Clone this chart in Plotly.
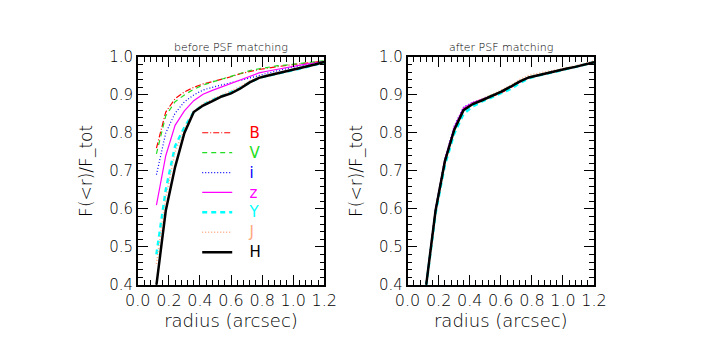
import plotly.graph_objects as go

radius = [0.12, 0.18, 0.24, 0.30, 0.36, 0.42, 0.48, 0.54, 0.60, 0.66,
          0.72, 0.78, 0.84, 0.90, 0.96, 1.02, 1.08, 1.14, 1.20]

bands = ["B", "V", "i", "z", "Y", "J", "H"]

# before PSF matching
before_B = [0.760, 0.855, 0.890, 0.908, 0.920, 0.929, 0.935, 0.941, 0.948, 0.956,
            0.962, 0.967, 0.971, 0.975, 0.978, 0.981, 0.984, 0.986, 0.989]
before_V = [0.745, 0.845, 0.882, 0.900, 0.915, 0.926, 0.934, 0.942, 0.949, 0.958,
            0.964, 0.969, 0.973, 0.977, 0.979, 0.982, 0.985, 0.987, 0.990]
before_i = [0.690, 0.800, 0.852, 0.882, 0.900, 0.913, 0.920, 0.926, 0.932, 0.938,
            0.944, 0.951, 0.958, 0.964, 0.969, 0.975, 0.979, 0.983, 0.988]
before_z = [0.610, 0.740, 0.820, 0.858, 0.885, 0.902, 0.912, 0.921, 0.929, 0.939,
            0.948, 0.958, 0.963, 0.968, 0.973, 0.977, 0.981, 0.984, 0.988]
before_Y = [0.480, 0.650, 0.765, 0.815, 0.855, 0.874, 0.886, 0.897, 0.906, 0.918,
            0.933, 0.945, 0.951, 0.956, 0.962, 0.967, 0.973, 0.980, 0.986]
before_J = [0.455, 0.630, 0.750, 0.810, 0.857, 0.877, 0.889, 0.900, 0.910, 0.922,
            0.937, 0.948, 0.954, 0.959, 0.964, 0.969, 0.975, 0.981, 0.987]
before_H = [0.400, 0.595, 0.710, 0.800, 0.855, 0.872, 0.884, 0.896, 0.904, 0.917,
            0.933, 0.945, 0.951, 0.957, 0.962, 0.967, 0.973, 0.980, 0.987]

# after PSF matching
after_B = [0.405, 0.598, 0.727, 0.812, 0.862, 0.878, 0.887, 0.895, 0.905, 0.918,
           0.933, 0.945, 0.952, 0.958, 0.964, 0.969, 0.975, 0.980, 0.986]
after_V = [0.403, 0.600, 0.728, 0.812, 0.863, 0.879, 0.889, 0.898, 0.909, 0.922,
           0.936, 0.947, 0.953, 0.958, 0.964, 0.970, 0.975, 0.981, 0.987]
after_i = [0.405, 0.602, 0.732, 0.818, 0.868, 0.881, 0.890, 0.898, 0.908, 0.921,
           0.935, 0.946, 0.952, 0.958, 0.963, 0.969, 0.975, 0.980, 0.986]
after_z = [0.404, 0.600, 0.730, 0.815, 0.866, 0.880, 0.889, 0.897, 0.908, 0.921,
           0.935, 0.946, 0.952, 0.957, 0.963, 0.969, 0.974, 0.980, 0.986]
after_Y = [0.398, 0.588, 0.715, 0.798, 0.850, 0.870, 0.883, 0.893, 0.903, 0.915,
           0.931, 0.944, 0.951, 0.956, 0.962, 0.968, 0.974, 0.980, 0.986]
after_J = [0.402, 0.596, 0.726, 0.810, 0.861, 0.879, 0.890, 0.900, 0.912, 0.925,
           0.940, 0.952, 0.958, 0.962, 0.966, 0.971, 0.977, 0.983, 0.990]
after_H = [0.400, 0.595, 0.725, 0.808, 0.860, 0.876, 0.886, 0.896, 0.908, 0.921,
           0.935, 0.946, 0.952, 0.957, 0.963, 0.969, 0.974, 0.980, 0.986]

before = [before_B, before_V, before_i, before_z, before_Y, before_J, before_H]
after = [after_B, after_V, after_i, after_z, after_Y, after_J, after_H]

colors = ["#ff0000", "#22dd22", "#0000ff", "#ff00ff", "#00ffff", "#ffaa80", "#000000"]
dashes = ["6px,2px,1px,2px", "5px,4px", "1px,2px", "solid", "5px,4px", "1px,2px", "solid"]
widths = [1.2, 1.2, 1.2, 1.2, 2.5, 1.5, 2.5]

FONT = "DejaVu Sans Light, DejaVu Sans"

fig = go.Figure()

for b, yb, ya, c, d, w in zip(bands, before, after, colors, dashes, widths):
    fig.add_trace(go.Scatter(
        x=radius, y=yb, mode="lines", xaxis="x", yaxis="y",
        line=dict(color=c, dash=d, width=w),
        name=f'&nbsp;&nbsp;&nbsp;<span style="color:{c};font-size:15px">{b}</span>',
    ))
    fig.add_trace(go.Scatter(
        x=radius, y=ya, mode="lines", xaxis="x2", yaxis="y2",
        line=dict(color=c, dash=d, width=w),
        showlegend=False,
    ))

xax = dict(
    range=[0, 1.2], dtick=0.2, tickformat=".1f",
    ticks="inside", ticklen=10, tickwidth=1, tickcolor="black",
    minor=dict(ticks="inside", ticklen=5, dtick=0.04, tickcolor="black"),
    showline=True, linecolor="black", linewidth=1.5, mirror="ticks",
    showgrid=False, zeroline=False,
    tickfont=dict(family=FONT, size=16, color="black", weight=300),
    title=dict(text="radius (arcsec)",
               font=dict(family=FONT, size=18, color="black", weight=300),
               standoff=4),
)
yax = dict(
    range=[0.4, 1.0], dtick=0.1, tickformat=".1f",
    ticks="inside", ticklen=10, tickwidth=1, tickcolor="black",
    minor=dict(ticks="inside", ticklen=5, dtick=0.02, tickcolor="black"),
    showline=True, linecolor="black", linewidth=1.5, mirror="ticks",
    showgrid=False, zeroline=False,
    tickfont=dict(family=FONT, size=15, color="black", weight=300),
    title=dict(text="F(&lt;r)/F_tot",
               font=dict(family=FONT, size=17, color="black", weight=300),
               standoff=12),
)

fig.update_layout(
    width=709, height=354,
    margin=dict(l=0, r=0, t=0, b=0),
    paper_bgcolor="white", plot_bgcolor="white",
    xaxis=dict(xax, domain=[0.171, 0.444], anchor="y"),
    yaxis=dict(yax, domain=[0.203, 0.881], anchor="x"),
    xaxis2=dict(xax, domain=[0.566, 0.839], anchor="y2"),
    yaxis2=dict(yax, domain=[0.203, 0.881], anchor="x2"),
    legend=dict(x=0.258, y=0.70, xanchor="left", yanchor="top",
                bgcolor="rgba(0,0,0,0)",
                font=dict(family="DejaVu Sans", size=13),
                tracegroupgap=0),
    annotations=[
        dict(text="before PSF matching", x=0.3075, y=0.885, xref="paper", yref="paper",
             xanchor="center", yanchor="bottom", showarrow=False,
             font=dict(family=FONT, size=11, color="black", weight=300)),
        dict(text="after PSF matching", x=0.7025, y=0.885, xref="paper", yref="paper",
             xanchor="center", yanchor="bottom", showarrow=False,
             font=dict(family=FONT, size=11, color="black", weight=300)),
    ],
)

fig.write_html("out.html")
